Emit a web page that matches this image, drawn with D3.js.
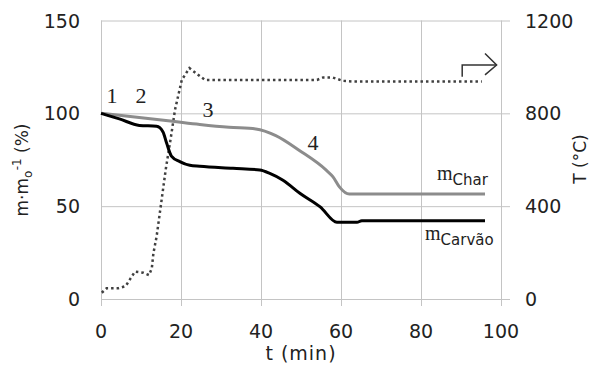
<!DOCTYPE html>
<html>
<head>
<meta charset="utf-8">
<script src="https://cdn.jsdelivr.net/npm/d3@7"></script>
<style>
  body { margin: 0; background: #fff; }
  text { font-family: "DejaVu Sans", sans-serif; fill: #222; }
  .serif { font-family: "Liberation Serif", "DejaVu Serif", serif; }
</style>
</head>
<body>
<svg id="chart" width="602" height="365"></svg>
<script>
// t (min), T (°C) - dotted
let tempT = [0.2, 1.4, 4.3, 6.2, 7.4, 8.5, 10.6, 12, 12.7, 13.1, 13.9, 14.7, 15.6, 16.2, 17.5, 18.5, 20.2, 22.1, 24.8, 26, 40, 54, 55.5, 58, 60.5, 63, 95.2];
let tempV = [27, 46, 46, 56, 89, 118, 113, 103, 132, 197, 269, 370, 484, 560, 700, 815, 944, 995, 959, 944, 944, 944, 954, 954, 940, 937, 937];

// m/m0 carvao (black)
let carvaoT = [0, 4.6, 9.6, 13.9, 15.5, 16.4, 17.6, 19.7, 22.2, 24.7, 33, 39.7, 42.2, 45.5, 49.8, 54.8, 59, 64, 65.2, 96];
let carvaoV = [100, 97, 93.5, 93, 90, 84, 77, 74, 72, 71.5, 70.4, 69.5, 67.7, 64, 56.8, 49.6, 41.3, 41.3, 42.2, 42.2];

// m/m0 char (grey)
let charT = [0, 17.9, 24.7, 32, 38.7, 43.7, 49.6, 56.3, 58, 59.6, 62.1, 96];
let charV = [100, 95.7, 94, 92.5, 91.6, 88, 80, 69.4, 65.8, 60.4, 56.5, 56.5];

let xTicks = [0, 20, 40, 60, 80, 100];
let yLeftTicks = [0, 50, 100, 150];
let yRightTicks = [0, 400, 800, 1200];

// stage labels: text, t, m
let stageText = ["1", "2", "3", "4"];
let stageT = [2.75, 10, 26.75, 53];
let stageM = [105.7, 105.7, 98, 80.2];

const svg = d3.select('#chart');
const plotLeft = 101, plotRight = 501, plotTop = 20.5, plotBottom = 299;

const x = d3.scaleLinear().domain([0, 100]).range([plotLeft, plotRight]);
const yL = d3.scaleLinear().domain([0, 150]).range([plotBottom, plotTop]);
const yR = d3.scaleLinear().domain([0, 1200]).range([plotBottom, plotTop]);

const gridColor = '#c4c4c4';

// vertical grid + bottom ticks
let gx = svg.append('g')
    .attr('transform', `translate(0,${plotBottom})`)
    .call(d3.axisBottom(x).tickValues(xTicks).tickSizeInner(7).tickSizeOuter(0).tickFormat(''));
gx.selectAll('.tick line').attr('y1', -(plotBottom - plotTop)).attr('stroke', gridColor);
gx.select('.domain').remove();

// horizontal grid with ticks both sides
let gy = svg.append('g')
    .attr('transform', `translate(${plotLeft},0)`)
    .call(d3.axisLeft(yL).tickValues(yLeftTicks).tickSizeInner(8).tickSizeOuter(0).tickFormat(''));
gy.selectAll('.tick line').attr('x2', plotRight - plotLeft + 9).attr('stroke', gridColor);
gy.select('.domain').remove();

// tick labels
svg.append('g').selectAll('text').data(xTicks).enter().append('text')
    .attr('x', d => x(d)).attr('y', 338)
    .attr('text-anchor', 'middle').style('font-size', '19px')
    .text(d => d);

svg.append('g').selectAll('text').data(yLeftTicks).enter().append('text')
    .attr('x', 80).attr('y', d => yL(d) + 7)
    .attr('text-anchor', 'end').style('font-size', '19px')
    .text(d => d);

svg.append('g').selectAll('text').data(yRightTicks).enter().append('text')
    .attr('x', 525).attr('y', d => yR(d) + 7)
    .attr('text-anchor', 'start').style('font-size', '19px')
    .text(d => d);

// axis titles
svg.append('text')
    .attr('x', 301).attr('y', 360)
    .attr('text-anchor', 'middle').style('font-size', '19px')
    .style('letter-spacing', '1px')
    .text('t (min)');

let yt = svg.append('text')
    .attr('transform', 'translate(28,170) rotate(-90)')
    .attr('text-anchor', 'middle').style('font-size', '17px');
yt.append('tspan').text('m·m');
yt.append('tspan').attr('dy', 4).style('font-size', '12px').text('o');
yt.append('tspan').attr('dy', -11).style('font-size', '12px').text('-1');
yt.append('tspan').attr('dy', 7).text(' (%)');

svg.append('text')
    .attr('transform', 'translate(586,159) rotate(-90)')
    .attr('text-anchor', 'middle').style('font-size', '17px')
    .text('T (°C)');

// lines
let line = d3.line().x(d => x(d[0])).y(d => yL(d[1])).curve(d3.curveMonotoneX);
let tline = d3.line().x(d => x(d[0])).y(d => yR(d[1]));

svg.append('path')
    .datum(d3.zip(tempT, tempV))
    .attr('d', tline)
    .attr('fill', 'none')
    .attr('stroke', '#404040')
    .attr('stroke-width', 2.5)
    .attr('stroke-dasharray', '2.5,3');

svg.append('path')
    .datum(d3.zip(charT, charV))
    .attr('d', line)
    .attr('fill', 'none')
    .attr('stroke', '#8c8c8c')
    .attr('stroke-width', 3)
    .attr('stroke-linejoin', 'round');

svg.append('path')
    .datum(d3.zip(carvaoT, carvaoV))
    .attr('d', line)
    .attr('fill', 'none')
    .attr('stroke', '#000')
    .attr('stroke-width', 3)
    .attr('stroke-linejoin', 'round');

// stage numbers
svg.append('g').selectAll('text').data(d3.zip(stageText, stageT, stageM)).enter().append('text')
    .attr('class', 'serif')
    .attr('x', d => x(d[1])).attr('y', d => yL(d[2]))
    .attr('text-anchor', 'middle').style('font-size', '22px')
    .text(d => d[0]);

// series labels
function seriesLabel(t, m, sub) {
    let lbl = svg.append('text').attr('x', x(t)).attr('y', yL(m));
    lbl.append('tspan').attr('class', 'serif').style('font-size', '20px').text('m');
    lbl.append('tspan').attr('dy', 5).style('font-size', '15px').text(sub);
}
seriesLabel(84, 64, 'Char');
seriesLabel(81, 31.8, 'Carvão');

// arrow to the right axis
let arrow = d3.line().x(d => x(d[0])).y(d => yR(d[1]));
svg.append('path')
    .datum([[90.3, 958], [90.3, 1008], [98.9, 1008]])
    .attr('d', arrow)
    .attr('fill', 'none').attr('stroke', '#333').attr('stroke-width', 1.5);
svg.append('path')
    .datum([[96, 1058], [98.9, 1008], [96, 966]])
    .attr('d', arrow)
    .attr('fill', 'none').attr('stroke', '#333').attr('stroke-width', 1.5);
</script>
</body>
</html>
